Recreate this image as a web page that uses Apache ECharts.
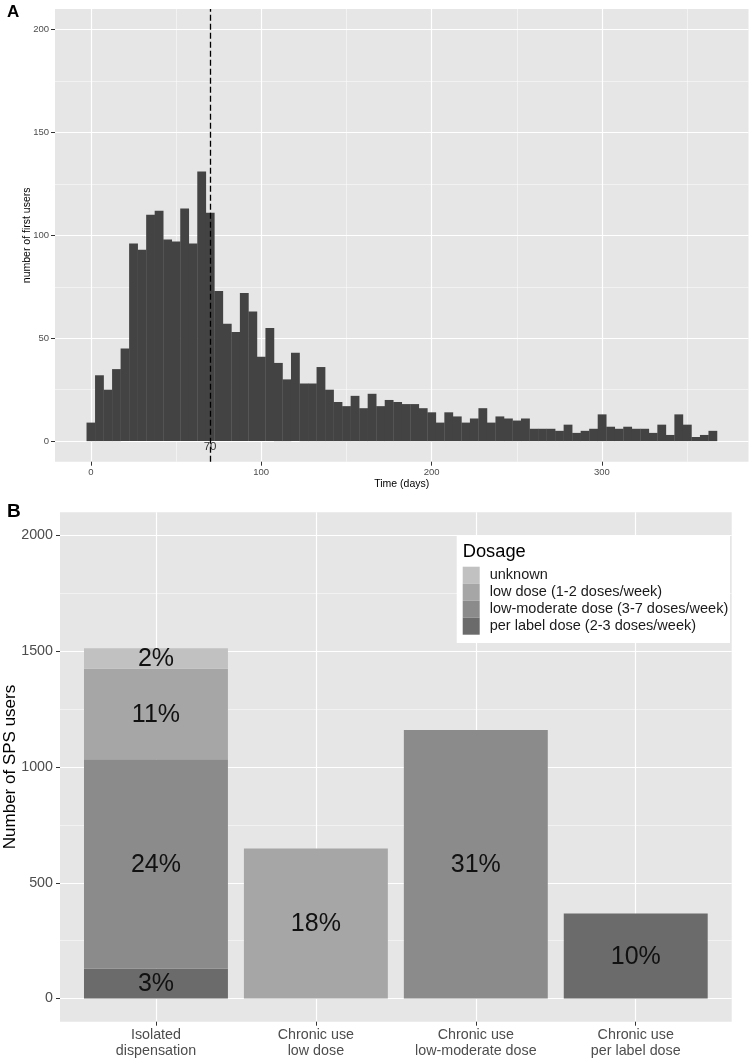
<!DOCTYPE html>
<html>
<head>
<meta charset="utf-8">
<script src="https://cdn.jsdelivr.net/npm/echarts@6/dist/echarts.min.js"></script>
<style>
html,body{margin:0;padding:0;background:#fff;}
#chart{width:752px;height:1061px;}
</style>
</head>
<body>
<div id="chart"></div>
<script>
// ---------- Panel A data ----------
const binCenters = [0,5,10,15,20,25,30,35,40,45,50,55,60,65,70,75,80,85,90,95,100,105,110,115,120,125,130,135,140,145,150,155,160,165,170,175,180,185,190,195,200,205,210,215,220,225,230,235,240,245,250,255,260,265,270,275,280,285,290,295,300,305,310,315,320,325,330,335,340,345,350,355,360,365];
const firstUsers = [9,32,25,35,45,96,93,110,112,98,97,113,96,131,111,73,57,53,72,63,41,55,38,30,43,28,28,36,25,19,17,22,16,23,17,20,19,18,18,16,14,9,14,12,9,11,16,9,12,11,10,11,6,6,6,5,8,4,5,6,13,7,6,7,6,6,4,8,3,13,8,2,3,5];
const binWidth = 5;
const medianDay = 70;
const medianLabel = '70';
const xTicksA = [0,100,200,300];
const xMinorA = [50,150,250,350];
const yTicksA = [0,50,100,150,200];
const yMinorA = [25,75,125,175];

// ---------- Panel B data ----------
const categories = ['Isolated\ndispensation','Chronic use\nlow dose','Chronic use\nlow-moderate dose','Chronic use\nper label dose'];
const dosageNames = ['unknown','low dose (1-2 doses/week)','low-moderate dose (3-7 doses/week)','per label dose (2-3 doses/week)'];
const unknownUsers      = [89, null, null, null];
const lowDoseUsers      = [390, 648, null, null];
const lowModerateUsers  = [904, null, 1160, null];
const perLabelUsers     = [130, null, null, 367];
const unknownPct     = ['2%', '', '', ''];
const lowDosePct     = ['11%', '18%', '', ''];
const lowModeratePct = ['24%', '', '31%', ''];
const perLabelPct    = ['3%', '', '', '10%'];
const yTicksB = [0,500,1000,1500,2000];
const yMinorB = [250,750,1250,1750];
const xTicksB = [1,2,3,4];

const dosageColors = ['#c1c1c1','#a6a6a6','#8b8b8b','#6b6b6b'];
const HIST_COLOR = '#434343';
const PANEL_BG = '#e6e6e6';
const FONT = '"Liberation Sans", Arial, sans-serif';

// stacking order bottom -> top: per label, low-moderate, low dose, unknown
const stackOrder = [
  {name: dosageNames[3], values: perLabelUsers, pct: perLabelPct, color: dosageColors[3]},
  {name: dosageNames[2], values: lowModerateUsers, pct: lowModeratePct, color: dosageColors[2]},
  {name: dosageNames[1], values: lowDoseUsers, pct: lowDosePct, color: dosageColors[1]},
  {name: dosageNames[0], values: unknownUsers, pct: unknownPct, color: dosageColors[0]}
];
const bases = categories.map(() => 0);
const stackSeries = stackOrder.map(s => {
  const data = [];
  s.values.forEach((v, i) => {
    if (v != null) {
      data.push([xTicksB[i], v, bases[i], s.pct[i]]);
      bases[i] += v;
    }
  });
  return {
    type: 'custom', name: s.name, xAxisIndex: 2, yAxisIndex: 2,
    itemStyle: {color: s.color},
    encode: {x: 0, y: 1},
    data: data,
    renderItem: (params, api) => {
      const x = api.value(0), v = api.value(1), b = api.value(2);
      const p0 = api.coord([x - 0.45, b + v]);
      const p1 = api.coord([x + 0.45, b]);
      const label = data[params.dataIndex][3];
      return {
        type: 'group',
        children: [
          {type: 'rect', shape: {x: p0[0], y: p0[1], width: p1[0] - p0[0], height: p1[1] - p0[1]}, style: {fill: s.color}},
          {type: 'text', style: {text: label, x: (p0[0] + p1[0]) / 2, y: (p0[1] + p1[1]) / 2 + 1, align: 'center', verticalAlign: 'middle', fill: '#111', font: '25px ' + FONT}}
        ]
      };
    }
  };
});

function minorAxis(gridIndex, min, max, vals) {
  return {
    type: 'value', gridIndex: gridIndex, min: min, max: max,
    axisLine: {show: false, onZero: false}, axisLabel: {show: false},
    axisTick: {show: false, customValues: vals},
    splitLine: {show: true, lineStyle: {color: '#ffffff', width: 0.5}}
  };
}

const chart = echarts.init(document.getElementById('chart'), null, {renderer: 'canvas'});
chart.setOption({
  backgroundColor: '#ffffff',
  animation: false,
  textStyle: {fontFamily: FONT},
  title: [
    {text: 'A', left: 7, top: 4, padding: 0, textStyle: {fontSize: 17, fontWeight: 'bold', color: '#000', fontFamily: FONT}},
    {text: 'B', left: 7, top: 502, padding: 0, textStyle: {fontSize: 19, fontWeight: 'bold', color: '#000', fontFamily: FONT}}
  ],
  grid: [
    {left: 55, top: 9, right: 3.5, bottom: 599.3, show: true, backgroundColor: PANEL_BG, borderWidth: 0, outerBoundsMode: 'none', containLabel: false},
    {left: 60, top: 512.3, right: 20.3, bottom: 39.3, show: true, backgroundColor: PANEL_BG, borderWidth: 0, outerBoundsMode: 'none', containLabel: false}
  ],
  xAxis: [
    {
      type: 'value', gridIndex: 0, min: -21, max: 386, position: 'bottom',
      axisLine: {show: false, onZero: false},
      axisTick: {show: true, length: 4, customValues: xTicksA, lineStyle: {color: '#333333'}},
      axisLabel: {customValues: xTicksA, margin: 6, fontSize: 9.5, color: '#4d4d4d', fontFamily: FONT},
      splitLine: {show: true, lineStyle: {color: '#ffffff', width: 1.2}},
      name: 'Time (days)', nameLocation: 'middle', nameGap: 17, nameMoveOverlap: false,
      nameTextStyle: {fontSize: 10.5, color: '#000', fontFamily: FONT, verticalAlign: 'top'}
    },
    minorAxis(0, -21, 386, xMinorA),
    {
      type: 'value', gridIndex: 1, min: 0.4, max: 4.6, position: 'bottom',
      axisLine: {show: false, onZero: false},
      axisTick: {show: true, length: 4, customValues: xTicksB, lineStyle: {color: '#333333'}},
      axisLabel: {customValues: xTicksB, margin: 5, fontSize: 14.3, lineHeight: 16, color: '#4d4d4d', fontFamily: FONT,
        formatter: v => categories[Math.round(v) - 1]},
      splitLine: {show: true, lineStyle: {color: '#ffffff', width: 1.2}}
    },
    minorAxis(1, 0.4, 4.6, [])
  ],
  yAxis: [
    {
      type: 'value', gridIndex: 0, min: -10, max: 210, position: 'left',
      axisLine: {show: false, onZero: false},
      axisTick: {show: true, length: 4, customValues: yTicksA, lineStyle: {color: '#333333'}},
      axisLabel: {customValues: yTicksA, margin: 6, fontSize: 9.5, color: '#4d4d4d', fontFamily: FONT},
      splitLine: {show: true, lineStyle: {color: '#ffffff', width: 1.2}},
      name: 'number of first users', nameLocation: 'middle', nameGap: 22, nameMoveOverlap: false,
      nameTextStyle: {fontSize: 10.5, color: '#000', fontFamily: FONT}
    },
    minorAxis(0, -10, 210, yMinorA),
    {
      type: 'value', gridIndex: 1, min: -100, max: 2100, position: 'left',
      axisLine: {show: false, onZero: false},
      axisTick: {show: true, length: 4, customValues: yTicksB, lineStyle: {color: '#333333'}},
      axisLabel: {customValues: yTicksB, margin: 7, fontSize: 14.3, color: '#4d4d4d', fontFamily: FONT,
        formatter: v => String(v)},
      splitLine: {show: true, lineStyle: {color: '#ffffff', width: 1.2}},
      name: 'Number of SPS users', nameLocation: 'middle', nameGap: 41, nameMoveOverlap: false,
      nameTextStyle: {fontSize: 17, color: '#000', fontFamily: FONT}
    },
    minorAxis(1, -100, 2100, yMinorB)
  ],
  legend: {
    data: dosageNames,
    orient: 'vertical', left: 462.7, top: 566.7, z: 200,
    itemWidth: 17, itemHeight: 17, itemGap: 0, icon: 'rect', padding: 0,
    selectedMode: false,
    textStyle: {fontSize: 14.5, color: '#1a1a1a', fontFamily: FONT, padding: [0, 0, 0, 5]}
  },
  graphic: {
    elements: [
      {type: 'rect', z: 100, shape: {x: 456.7, y: 535, width: 273.3, height: 108}, style: {fill: '#ffffff'}},
      {type: 'text', z: 101, style: {text: 'Dosage', x: 462.7, y: 552, verticalAlign: 'middle', fill: '#000', font: '18.3px ' + FONT}}
    ]
  },
  series: [
    {
      type: 'custom', name: 'first users', xAxisIndex: 0, yAxisIndex: 0,
      encode: {x: 0, y: 1},
      data: binCenters.map((c, i) => [c, firstUsers[i]]),
      renderItem: (params, api) => {
        const c = api.value(0), n = api.value(1);
        const tl = api.coord([c - binWidth / 2, n]);
        const br = api.coord([c + binWidth / 2, 0]);
        return {type: 'rect', shape: {x: tl[0], y: tl[1], width: br[0] - tl[0] + 0.3, height: br[1] - tl[1]}, style: {fill: HIST_COLOR}};
      }
    },
    {
      type: 'scatter', xAxisIndex: 0, yAxisIndex: 0, symbolSize: 0,
      data: [[medianDay, -2.8]],
      label: {show: true, position: 'inside', formatter: medianLabel, fontSize: 11.5, color: '#000', fontFamily: FONT},
      markLine: {
        silent: true, symbol: 'none', label: {show: false},
        lineStyle: {type: [6, 3], color: '#000', width: 1.3},
        data: [{xAxis: medianDay}]
      },
      z: 5
    }
  ].concat(stackSeries)
});
</script>
</body>
</html>
